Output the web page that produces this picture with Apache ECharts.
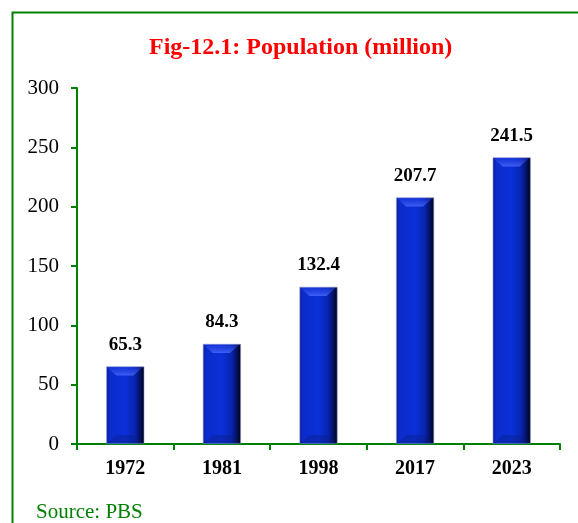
<!DOCTYPE html>
<html><head><meta charset="utf-8">
<script src="https://cdn.jsdelivr.net/npm/echarts@6/dist/echarts.min.js"></script>
<style>html,body{margin:0;padding:0;background:#fff}#c{width:578px;height:523px}</style>
</head><body><div id="c"></div>
<script>
const categories = ['1972','1981','1998','2017','2023'];
const population = [65.3, 84.3, 132.4, 207.7, 241.5];
const yTicks = [0, 50, 100, 150, 200, 250, 300];

const serif = '"Liberation Serif","Times New Roman",serif';
const green = '#008000';
const BAR_W = 38;
const chart = echarts.init(document.getElementById('c'));

function renderShine(params, api) {
  const idx = api.value(0), val = api.value(1);
  const top = api.coord([idx, val]);
  const base = api.coord([idx, 0]);
  const h = BAR_W / 2;
  const x0 = top[0] - h, x1 = top[0] + h;
  const capH = 9;
  return {
    type: 'group',
    children: [
      { type: 'polygon', silent: true,
        shape: { points: [[x0 + 1, top[1] + 1], [x1 - 2, top[1] + 1], [x1 - 11, top[1] + capH], [x0 + 10, top[1] + capH]] },
        style: { fill: { type: 'linear', x: 0, y: 0, x2: 0, y2: 1, colorStops: [
          { offset: 0, color: 'rgba(30,60,225,0.5)' }, { offset: 1, color: 'rgba(80,110,255,0.75)' } ] } } },
      { type: 'polygon', silent: true,
        shape: { points: [[x0 + 10, base[1] - capH], [x1 - 11, base[1] - capH], [x1 - 2, base[1] - 1], [x0 + 1, base[1] - 1]] },
        style: { fill: 'rgba(10,30,120,0.35)' } }
    ]
  };
}

chart.setOption({
  animation: false,
  backgroundColor: '#fff',
  title: {
    text: 'Fig-12.1: Population (million)',
    left: 144, top: 31,
    textStyle: { fontFamily: serif, fontSize: 24, fontWeight: 'bold', color: '#ff0000' }
  },
  graphic: [
    { type: 'rect', left: 10, top: 10, shape: { width: 620, height: 620 },
      style: { fill: 'none', stroke: green, lineWidth: 2 }, z: 0 },
    { type: 'text', left: 36, top: 502,
      style: { text: 'Source: PBS', fill: green, font: '21px ' + serif } }
  ],
  grid: { left: 77, right: 18, top: 88, bottom: 79 },
  xAxis: {
    type: 'category', data: categories,
    axisLine: { lineStyle: { color: green, width: 2 } },
    axisTick: { show: true, length: 6, lineStyle: { color: green, width: 2 } },
    axisLabel: { fontFamily: serif, fontSize: 20, fontWeight: 'bold', color: '#000', margin: 15 }
  },
  yAxis: {
    type: 'value', min: yTicks[0], max: yTicks[yTicks.length - 1], interval: 50,
    splitLine: { show: false },
    axisLine: { show: true, lineStyle: { color: green, width: 2 } },
    axisTick: { show: true, length: 6, lineStyle: { color: green, width: 2 } },
    axisLabel: { fontFamily: serif, fontSize: 21, color: '#000', margin: 18 }
  },
  series: [{
    type: 'bar', data: population, barWidth: BAR_W,
    itemStyle: {
      borderColor: '#8c96d8', borderWidth: 0.6,
      color: { type: 'linear', x: 0, y: 0, x2: 1, y2: 0, colorStops: [
        { offset: 0, color: '#0a1c98' },
        { offset: 0.1, color: '#0c2ccc' },
        { offset: 0.5, color: '#0a30d8' },
        { offset: 0.75, color: '#0824b0' },
        { offset: 0.9, color: '#02105a' },
        { offset: 1, color: '#000010' }
      ] }
    },
    label: {
      show: true, position: 'top', distance: 12,
      fontFamily: serif, fontSize: 19, fontWeight: 'bold', color: '#000'
    }
  }, {
    type: 'custom', z: 3, silent: true,
    data: population.map((v, i) => [i, v]),
    renderItem: renderShine
  }]
});
</script></body></html>
